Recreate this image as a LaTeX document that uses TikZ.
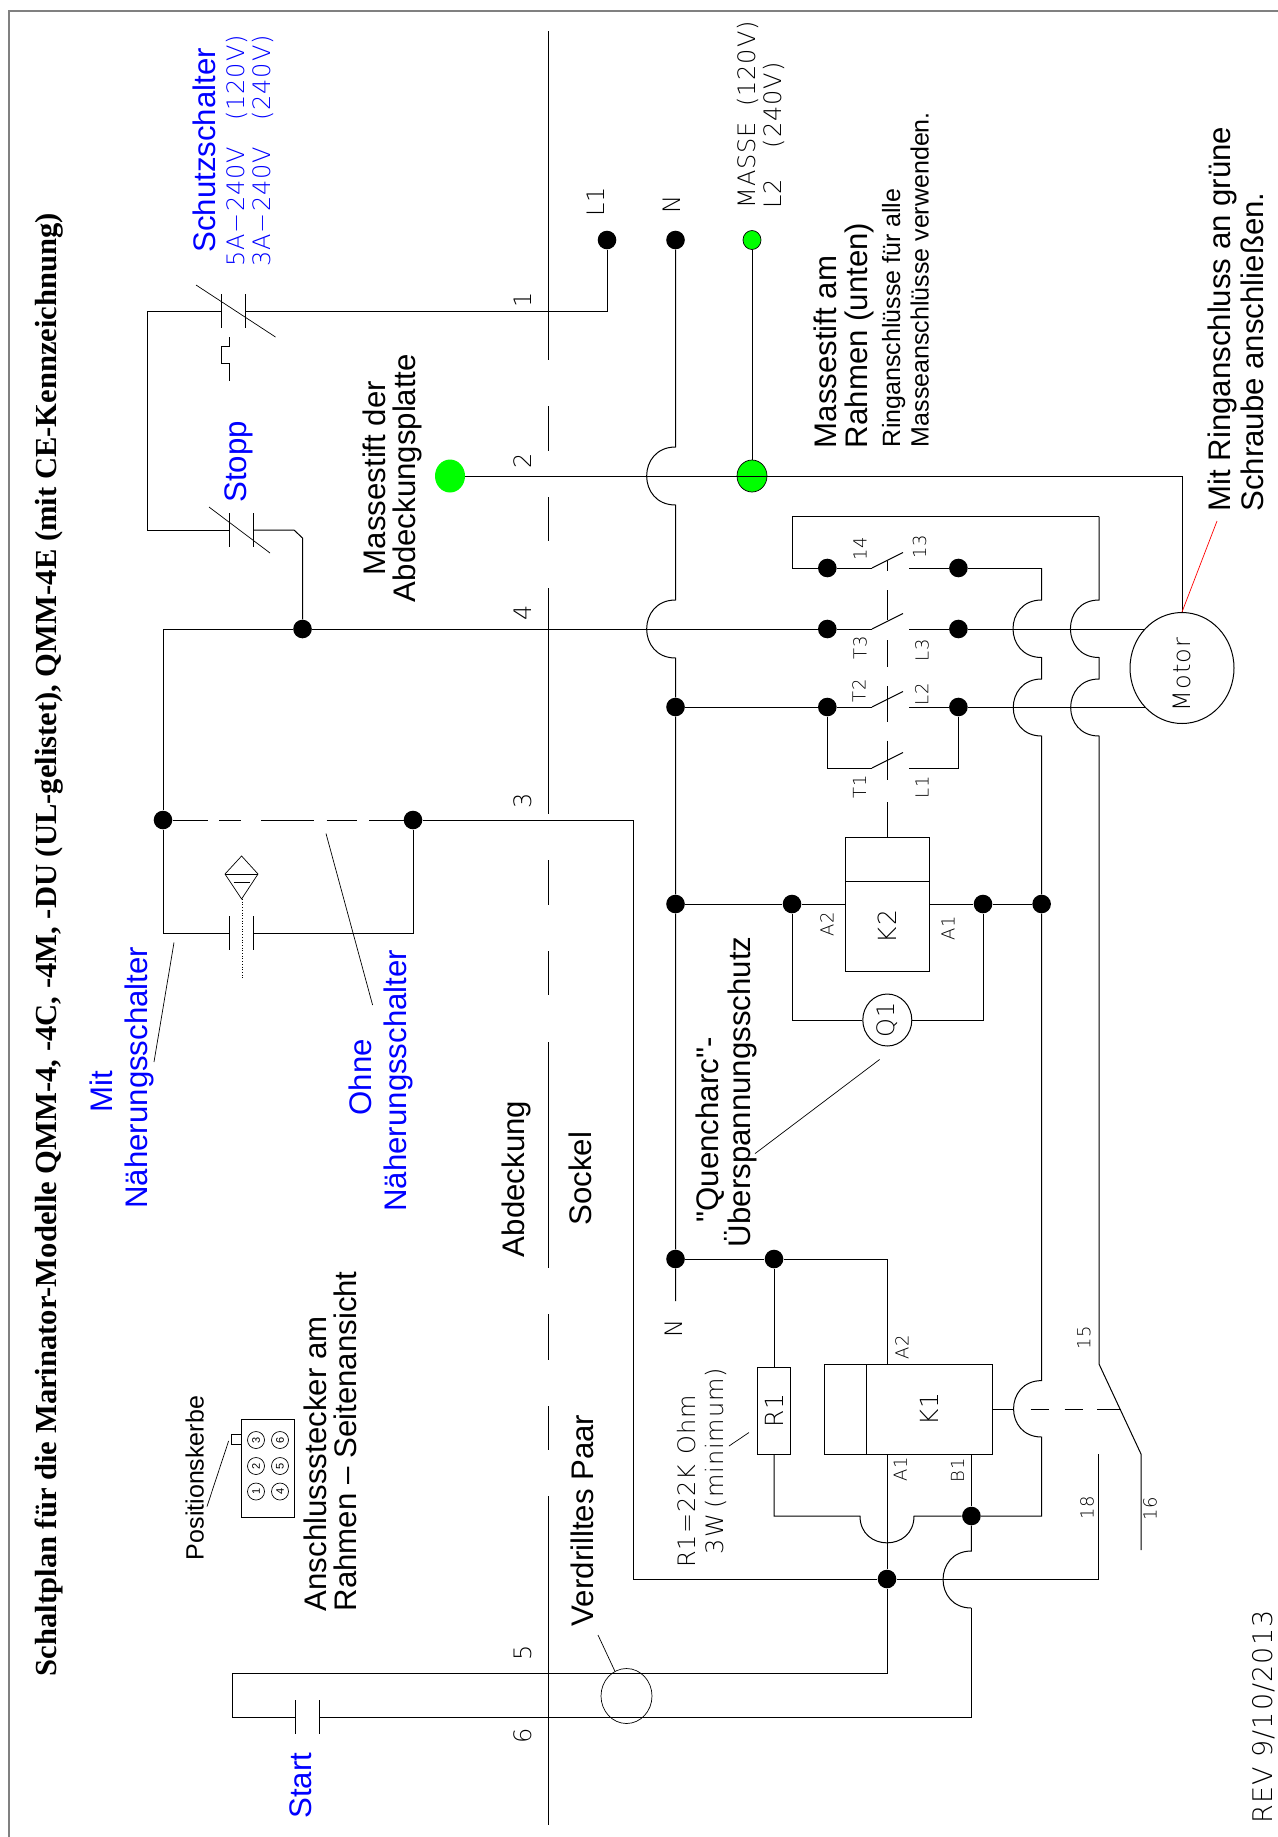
\documentclass[tikz,border=0pt]{standalone}
\usepackage{fontspec}
\usepackage{graphicx}
\usetikzlibrary{shapes.geometric}
\setmainfont{Liberation Sans}
\newfontfamily\quotefont{Liberation Sans}
\newfontfamily\titlefont{Liberation Serif}
\newfontfamily\cadfont[LetterSpace=4]{DejaVu Sans ExtraLight}

\tikzset{
    wire/.style={line width=0.5pt, line join=miter},
    lead/.style={line width=0.35pt},
    frameline/.style={line width=0.8pt, gray},
    hop/.style={out=180, in=180, looseness=1.7},
    hopdown/.style={out=-90, in=-90, looseness=1.7},
    dot/.style={circle, fill=black, inner sep=0pt, minimum size=9.3pt},
    box/.style={draw, line width=0.5pt, inner sep=0pt, fill=white},
    lbl/.style={rotate=90, inner sep=0pt, anchor=north west, align=left},
    big/.style={lbl, font=\fontsize{15.6}{15.3}\selectfont},
    small/.style={lbl, font=\fontsize{12.5}{14.3}\selectfont},
    bluebig/.style={big, text=blue},
    cad/.style={rotate=90, inner sep=0pt, font=\fontsize{12}{14}\cadfont},
    cadtiny/.style={rotate=90, inner sep=0pt, font=\fontsize{9}{11}\cadfont},
    cadnote/.style={lbl, font=\fontsize{12}{15}\cadfont},
    pinmark/.style={draw, circle, rotate=90, line width=0.35pt, inner sep=0pt, minimum size=8.5pt, font=\fontsize{5.5}{6}\selectfont},
}

\begin{document}
\begin{tikzpicture}[x=0.5pt, y=-0.5pt]
    \useasboundingbox (0,0) rectangle (1278,1837);

    % Frame of the sheet
    \coordinate (frameA) at (9,1837);
    \coordinate (frameB) at (9,11);
    \coordinate (frameC) at (1278,11);
    \draw[frameline] (frameA) -- (frameB) -- (frameC);

    % Line between cover and base
    \foreach \ya/\yb in {31/360, 406/451, 497/541, 588/814, 860/905, 951/995, 1042/1268, 1314/1360, 1406/1450, 1496/1825}
        \draw[wire] (548,\ya) -- (548,\yb);

    % Terminals
    \node[dot] (dotLa) at (607,240) {};
    \node[dot] (dotN) at (675.5,240) {};
    \node[dot] (dotMain) at (302.5,629) {};
    \node[dot] (dotProxA) at (163,820) {};
    \node[dot] (dotProxB) at (413,820) {};
    \node[dot] (dotT3a) at (827.3,629) {};
    \node[dot] (dotT3b) at (958.4,629) {};
    \node[dot] (dotT2a) at (827.3,707) {};
    \node[dot] (dotT2b) at (958.4,707) {};
    \node[dot] (dotAuxA) at (827.3,568) {};
    \node[dot] (dotAuxB) at (958.4,568) {};
    \node[dot] (dotNb) at (675.5,707) {};
    \node[dot] (dotNc) at (675.5,904) {};
    \node[dot] (dotNd) at (675.5,1259) {};
    \node[dot] (dotKa) at (792,904) {};
    \node[dot] (dotKb) at (983,904) {};
    \node[dot] (dotKc) at (1041.6,904) {};
    \node[dot] (dotRa) at (774,1259) {};
    \node[dot] (dotBa) at (971.4,1516) {};
    \node[dot] (dotAa) at (887,1579) {};

    % Breaker and stop button
    \coordinate (wireA) at (607,311);
    \coordinate (cbR) at (245,311);
    \coordinate (cbL) at (221,311);
    \coordinate (cornerA) at (147,311);
    \coordinate (cornerB) at (147,530);
    \coordinate (stopL) at (229,530);
    \coordinate (stopR) at (253.5,530);
    \coordinate (chamA) at (294,530);
    \coordinate (chamB) at (302.5,538);
    \draw[wire] (dotLa) -- (wireA) -- (cbR);
    \draw[wire] (cbL) -- (cornerA) -- (cornerB) -- (stopL);
    \draw[wire] (stopR) -- (chamA) -- (chamB) -- (dotMain);
    \draw[lead] (196,285) -- (275.5,337);
    \draw[lead] (209,507) -- (270,553);
    \draw[lead] (229,337) -- (229,346) -- (221,346) -- (221,363) -- (229,363) -- (229,381);

    % Contact plates
    \foreach \cx/\cy in {221/311, 229/530, 229/933, 295/1717} {
        \draw[wire] (\cx,\cy-17) -- (\cx,\cy+17);
        \draw[wire] (\cx+24.5,\cy-17) -- (\cx+24.5,\cy+17);
    }

    % Proximity switch
    \coordinate (cornerC) at (163,629);
    \coordinate (proxA) at (163,933);
    \coordinate (proxB) at (229,933);
    \coordinate (proxC) at (253.5,933);
    \coordinate (proxD) at (413,933);
    \draw[wire] (dotMain) -- (cornerC) -- (dotProxA) -- (proxA) -- (proxB);
    \draw[wire] (proxC) -- (proxD) -- (dotProxB);
    \foreach \xa/\xb in {172.6/208, 219/241, 261/314, 326.5/357, 369/404}
        \draw[wire] (\xa,820) -- (\xb,820);
    \draw[lead] (241.6,856) -- (258,874) -- (241.6,899) -- (225,874) -- cycle;
    \draw[lead] (225,874) -- (258,874);
    \draw[lead] (233.5,882) -- (250,882);
    \draw[lead, densely dotted] (242.5,899) -- (242.5,980);
    \draw[lead] (174,942.5) -- (154,1062);
    \draw[lead] (326,833.5) -- (372.6,1005);

    % Neutral
    \coordinate (nA) at (675.5,447);
    \coordinate (nB) at (675.5,505);
    \coordinate (nC) at (675.5,600);
    \coordinate (nD) at (675.5,658);
    \coordinate (nE) at (675.5,1301);
    \draw[wire] (dotN) -- (nA) to[hop] (nB) -- (nC) to[hop] (nD) -- (dotNb) -- (dotNc) -- (dotNd) -- (nE);

    % Motor rows
    \coordinate (motorC) at (1182,668);
    \coordinate (rowA) at (872,629);
    \coordinate (rowB) at (909,629);
    \coordinate (rowC) at (872,707);
    \coordinate (rowD) at (909,707);
    \coordinate (rowE) at (827.3,768);
    \coordinate (rowF) at (872,768);
    \coordinate (rowG) at (909,768);
    \coordinate (rowH) at (958.4,768);
    \draw[wire] (dotMain) -- (dotT3a) -- (rowA);
    \draw[wire] (rowB) -- (dotT3b) -- (dotT3b -| motorC);
    \draw[wire] (dotNb) -- (dotT2a) -- (rowC);
    \draw[wire] (rowD) -- (dotT2b) -- (dotT2b -| motorC);
    \draw[wire] (dotT2a) -- (rowE) -- (rowF);
    \draw[wire] (rowG) -- (rowH) -- (dotT2b);
    \foreach \ry in {568, 629, 707, 768}
        \draw[wire] (872,\ry) -- (903,\ry-15.5);

    % Auxiliary contact
    \coordinate (auxA) at (792,516.6);
    \coordinate (auxB) at (792,568);
    \coordinate (auxC) at (872,568);
    \coordinate (auxD) at (909,568);
    \coordinate (auxE) at (1041.6,568);
    \coordinate (auxF) at (1099,516.6);
    \draw[wire] (auxF) -- (auxA) -- (auxB) -- (dotAuxA) -- (auxC);
    \draw[wire] (auxD) -- (dotAuxB) -- (auxE);

    % Mechanical link of K2
    \foreach \ya/\yb in {561/571, 590/620, 640/667, 686/722, 740.5/780, 802/838}
        \draw[wire] (887,\ya) -- (887,\yb);

    % Contactor K2
    \node[box, minimum width=42pt, minimum height=22pt] (K2top) at (887.35,859.5) {};
    \node[box, minimum width=42pt, minimum height=44.6pt, font=\fontsize{12.5}{14}\cadfont] (K2coil) at (887.35,926.5) {\rotatebox{90}{K2}};
    \node[draw, ellipse, line width=0.5pt, fill=white, inner sep=0pt, minimum width=24.5pt, minimum height=26pt, font=\fontsize{12}{14}\cadfont] (Qa) at (887.3,1020) {\rotatebox{90}{Q1}};
    \coordinate (qA) at (792,1020);
    \coordinate (qB) at (983,1020);
    \draw[wire] (dotNc) -- (dotKa) -- (K2coil.west |- dotKa);
    \draw[wire] (K2coil.east |- dotKb) -- (dotKb) -- (dotKc);
    \draw[wire] (dotKa) -- (qA) -- (Qa);
    \draw[wire] (Qa) -- (qB) -- (dotKb);
    \draw[lead] (879.6,1059.5) -- (755,1153.6);

    % Contactor K1 and R1
    \node[box, minimum width=21pt, minimum height=45pt] (K1top) at (845,1409) {};
    \node[box, minimum width=63.3pt, minimum height=45pt, font=\fontsize{12.5}{14}\cadfont] (K1coil) at (929.3,1409) {\rotatebox{90}{K1}};
    \node[box, minimum width=16.3pt, minimum height=43.5pt, font=\fontsize{12.5}{14}\cadfont] (Ra) at (774,1410.5) {\rotatebox{90}{R1}};
    \coordinate (kA) at (887,1259);
    \coordinate (kB) at (887,1364);
    \coordinate (kC) at (887,1454);
    \coordinate (kD) at (971.4,1454);
    \coordinate (kE) at (971.4,1551);
    \coordinate (kF) at (971.4,1608);
    \coordinate (rA) at (774,1516);
    \coordinate (rB) at (860,1516);
    \coordinate (rC) at (914,1516);
    \coordinate (vA) at (1041.6,600);
    \coordinate (vB) at (1041.6,657.5);
    \coordinate (vC) at (1041.6,679);
    \coordinate (vD) at (1041.6,736);
    \coordinate (vE) at (1041.6,1380.6);
    \coordinate (vF) at (1041.6,1437);
    \coordinate (vG) at (1041.6,1516);
    \draw[wire] (dotNd) -- (dotRa) -- (kA) -- (kB);
    \draw[wire] (dotRa) -- (Ra);
    \draw[wire] (Ra) -- (rA) -- (rB) to[hopdown] (rC) -- (dotBa);
    \draw[wire] (dotBa) -- (vG) -- (vF) to[hop] (vE) -- (dotKc) -- (vD) to[hop] (vC) -- (vB) to[hop] (vA) -- (auxE);
    \draw[wire] (dotBa) -- (kD);
    \draw[wire] (dotBa) -- (kE) to[hop] (kF);

    % Wire 3 and start button
    \coordinate (wireB) at (633.5,820);
    \coordinate (wireC) at (633.5,1579);
    \coordinate (wireD) at (1098,1579);
    \coordinate (wireE) at (1098,1454);
    \coordinate (startA) at (887,1673.4);
    \coordinate (startB) at (232,1673.4);
    \coordinate (startC) at (232,1717);
    \coordinate (startD) at (295,1717);
    \coordinate (startE) at (319.5,1717);
    \coordinate (startF) at (971.4,1717);
    \draw[wire] (dotProxB) -- (wireB) -- (wireC) -- (dotAa) -- (wireD) -- (wireE);
    \draw[wire] (kC) -- (dotAa) -- (startA) -- (startB) -- (startC) -- (startD);
    \draw[wire] (startE) -- (startF) -- (kF);

    % Switch 15-16
    \coordinate (swA) at (1099,600);
    \coordinate (swB) at (1099,657.5);
    \coordinate (swC) at (1099,679);
    \coordinate (swD) at (1099,736);
    \coordinate (swE) at (1099,1364);
    \coordinate (swF) at (1141,1454);
    \coordinate (swG) at (1141,1550);
    \draw[wire] (auxF) -- (swA) to[hop] (swB) -- (swC) to[hop] (swD) -- (swE) -- (swF) -- (swG);
    \foreach \xa/\xb in {992.6/1014, 1030.6/1049, 1064.5/1083, 1097/1121}
        \draw[wire] (\xa,1409) -- (\xb,1409);

    % Motor
    \node[draw, ellipse, line width=0.5pt, fill=white, inner sep=0pt, minimum width=52pt, minimum height=55.5pt] (motor) at (motorC) {};
    \node[cad] (motortxt) at (1181.6,674.5) {Motor};

    % Ground
    \node[draw, ellipse, fill=green, line width=0.35pt, inner sep=0pt, minimum width=9pt, minimum height=9.5pt] (dotGnd) at (752,240) {};
    \node[draw, ellipse, fill=green, line width=0.35pt, inner sep=0pt, minimum width=15pt, minimum height=16pt] (pinFrame) at (752,476) {};
    \node[ellipse, fill=green, inner sep=0pt, minimum width=15pt, minimum height=16.5pt] (pinCover) at (450,476) {};
    \draw[wire] (dotGnd) -- (pinFrame);
    \draw[wire] (pinCover) -- (pinCover -| motor.north) -- (motor.north);
    \draw[lead, red] (1217,521) -- (motor.north);

    % Twisted pair ring
    \node[draw, ellipse, line width=0.35pt, inner sep=0pt, minimum width=25.5pt, minimum height=27.5pt] (twist) at (626.5,1696) {};
    \draw[lead] (598,1635) -- (twist);
    \draw[lead] (749,1432.5) -- (729,1446);

    % Connector
    \node[draw, line width=0.35pt, inner sep=0pt, minimum width=26.5pt, minimum height=49pt] (conn) at (267.5,1468) {};
    \node[draw, line width=0.35pt, inner sep=0pt, minimum size=4.7pt] (notch) at (236.5,1439.5) {};
    \foreach \n/\px/\py in {1/256/1491.5, 2/256/1466, 3/256/1440, 4/280/1491.5, 5/280/1466, 6/280/1440}
        \node[pinmark] (pin\n) at (\px,\py) {\n};
    \draw[lead] (228.6,1441) -- (207,1506.5);

    % Title
    \node[lbl, font=\fontsize{15.3}{16}\titlefont\bfseries] (title) at (35,1676.5) {Schaltplan für die Marinator-Modelle QMM-4, -4C, -4M, -DU (UL-gelistet), QMM-4E (mit CE-Kennzeichnung)};

    % Blue labels
    \node[bluebig] (lblBreaker) at (192,253) {Schutzschalter};
    \node[bluebig] (lblStop) at (224.5,503) {Stopp};
    \node[bluebig] (lblMitA) at (89,1113) {Mit};
    \node[bluebig] (lblMitB) at (124.5,1209) {Näherungsschalter};
    \node[bluebig] (lblOhneA) at (348,1116) {Ohne};
    \node[bluebig] (lblOhneB) at (383.7,1212) {Näherungsschalter};
    \node[bluebig] (lblStart) at (289,1819) {Start};
    \node[cadnote, text=blue] (lblBreakA) at (225.7,267) {5A−240V\hspace{13pt}(120V)};
    \node[cadnote, text=blue] (lblBreakB) at (252,267) {3A−240V\hspace{13pt}(240V)};

    % Black labels
    \node[big, anchor=north, align=center] (lblCover) at (362,478) {Massestift der\\Abdeckungsplatte};
    \node[big] (lblAbd) at (501,1257.4) {Abdeckung};
    \node[big] (lblSockel) at (568,1226) {Sockel};
    \node[big] (lblFrame) at (813.5,448.6) {Massestift am\\Rahmen (unten)};
    \node[small] (lblRing) at (881.6,447.4) {Ringanschlüsse für alle\\Masseanschlüsse verwenden.};
    \node[big, font=\fontsize{15.6}{16.6}\selectfont] (lblScrew) at (1207,512) {Mit Ringanschluss an grüne\\Schraube anschließen.};
    \node[big] (lblQa) at (695,1222.8) {{\quotefont "Quencharc"-}};
    \node[big] (lblQb) at (723.7,1247.5) {Überspannungsschutz};
    \node[big] (lblPair) at (570.6,1626.5) {Verdrilltes Paar};
    \node[big] (lblPlug) at (303,1611.6) {Anschlussstecker am\\Rahmen – Seitenansicht};
    \node[small] (lblNotch) at (185,1560.4) {Positionskerbe};

    % Wire numbers and terminal names
    \foreach \txt/\px/\py in {1/523/300, 2/523/461, 4/523/613, 3/523/800.6, 5/523/1653, 6/523/1735.5, L1/596/201.6, N/671.4/204.7}
        \node[cad] (num\txt) at (\px,\py) {\txt};
    \node[cad] (lblNb) at (673.5,1329) {N};
    \foreach \txt/\px/\py in {14/860/549, 13/919.6/547, T3/860/648, L3/922/650, T2/859/691, L2/921.6/694, T1/859.6/787, L1/922/787, A2/827/924, A1/948/928}
        \node[cadtiny] (pin\txt b) at (\px,\py) {\txt};
    \foreach \txt/\px/\py in {A2/902/1347, A1/900.4/1469, B1/957.6/1470, 15/1084/1338, 18/1087/1508, 16/1150/1509}
        \node[cadtiny] (coil\txt) at (\px,\py) {\txt};

    \node[cadnote] (lblMasse) at (737,209) {MASSE\hspace{7.5pt}(120V)};
    \node[cadnote] (lblLb) at (762.4,209) {L2\hspace{15.5pt}(240V)};
    \node[cadnote] (lblRa) at (677,1568) {R1=22K\hspace{5pt}Ohm};
    \node[cadnote] (lblRb) at (705,1554.5) {3W\hspace{3pt}(minimum)};
    \node[cadnote, font=\fontsize{13.5}{15}\cadfont] (lblRev) at (1252,1824) {REV 9/10/2013};
\end{tikzpicture}
\end{document}
